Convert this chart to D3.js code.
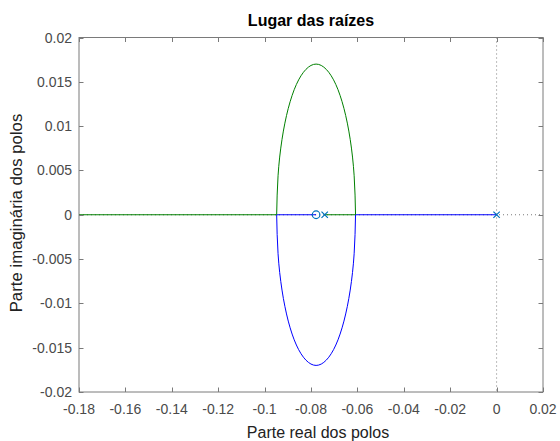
<!DOCTYPE html>
<html><head><meta charset="utf-8">
<script src="https://cdn.jsdelivr.net/npm/d3@7"></script>
<style>body{margin:0;background:#fff}svg{display:block;font-family:"Liberation Sans",Arial,sans-serif}</style>
</head><body><svg id="c" width="560" height="441"></svg>
<script>
const xTicks = [-0.18,-0.16,-0.14,-0.12,-0.1,-0.08,-0.06,-0.04,-0.02,0,0.02];
const yTicks = [-0.02,-0.015,-0.01,-0.005,0,0.005,0.01,0.015,0.02];
const xTickLabels = ["-0.18","-0.16","-0.14","-0.12","-0.1","-0.08","-0.06","-0.04","-0.02","0","0.02"];
const yTickLabels = ["-0.02","-0.015","-0.01","-0.005","0","0.005","0.01","0.015","0.02"];
// upper (green) arc of the locus
const arcX = [-0.0608,-0.0614,-0.0631,-0.0658,-0.0693,-0.0734,-0.0778,-0.0822,-0.0863,-0.0898,-0.0925,-0.0942,-0.0948];
const arcY = [0,0.0044,0.0085,0.0120,0.0147,0.0164,0.0170,0.0164,0.0147,0.0120,0.0085,0.0044,0];
const lowerArcY = [0,-0.0044,-0.0085,-0.0120,-0.0147,-0.0164,-0.0170,-0.0164,-0.0147,-0.0120,-0.0085,-0.0044,0];
// real-axis segments
const greenReal = [[-0.0741,-0.0608],[-0.0948,-0.25]];
const blueReal = [[0,-0.0608],[-0.0948,-0.0778]];
const poles = [0,-0.0741];
const zeros = [-0.0778];

const svg = d3.select("#c");
const L=79,R=543,T=37.5,B=392;
const x = d3.scaleLinear().domain([-0.18,0.02]).range([L,R]);
const y = d3.scaleLinear().domain([-0.02,0.02]).range([B,T]);
const axisCol="#7a7a7a", txtCol="#4a4a4a";
svg.append("defs").append("clipPath").attr("id","clip").append("rect").attr("x",L).attr("y",T).attr("width",R-L).attr("height",B-T);
const g = svg.append("g").attr("clip-path","url(#clip)");
// dotted axis lines
g.append("line").attr("x1",x(0)).attr("x2",x(0)).attr("y1",T).attr("y2",B).attr("stroke","#7a7a7a").attr("stroke-dasharray","1,3");
g.append("line").attr("x1",L).attr("x2",R).attr("y1",y(0)).attr("y2",y(0)).attr("stroke","#7a7a7a").attr("stroke-dasharray","1,3");
const line = d3.line().x(d=>x(d[0])).y(d=>y(d[1])).curve(d3.curveNatural);
const upper = arcX.map((v,i)=>[v,arcY[i]]);
const lower = arcX.map((v,i)=>[v,lowerArcY[i]]);
const blue="#0000ff", green="#008000";
blueReal.forEach(s=>g.append("line").attr("x1",x(s[0])).attr("x2",x(s[1])).attr("y1",y(0)).attr("y2",y(0)).attr("stroke",blue).attr("stroke-width",1));
greenReal.forEach(s=>g.append("line").attr("x1",x(s[0])).attr("x2",x(s[1])).attr("y1",y(0)).attr("y2",y(0)).attr("stroke",green).attr("stroke-width",1));
g.append("path").attr("d",line(lower)).attr("fill","none").attr("stroke",blue).attr("stroke-width",1);
g.append("path").attr("d",line(upper)).attr("fill","none").attr("stroke",green).attr("stroke-width",1);
const mk="#0072bd";
zeros.forEach(z=>g.append("circle").attr("cx",x(z)).attr("cy",y(0)).attr("r",3.8).attr("fill","none").attr("stroke",mk).attr("stroke-width",1.2));
poles.forEach(p=>{const cx=x(p),cy=y(0),s=3.2;
  g.append("path").attr("d",`M${cx-s},${cy-s}L${cx+s},${cy+s}M${cx-s},${cy+s}L${cx+s},${cy-s}`).attr("stroke",mk).attr("stroke-width",1.2);});
// box and ticks
svg.append("rect").attr("x",L).attr("y",T).attr("width",R-L).attr("height",B-T).attr("fill","none").attr("stroke",axisCol).attr("stroke-width",1);
const tl=4.5;
xTicks.forEach((t,i)=>{const px=Math.round(x(t))+0.5;
  svg.append("line").attr("x1",px).attr("x2",px).attr("y1",B).attr("y2",B-tl).attr("stroke",axisCol);
  svg.append("line").attr("x1",px).attr("x2",px).attr("y1",T).attr("y2",T+tl).attr("stroke",axisCol);
  svg.append("text").attr("x",x(t)).attr("y",B+22).attr("text-anchor","middle").attr("font-size",14).attr("fill",txtCol).text(xTickLabels[i]);});
yTicks.forEach((t,i)=>{const py=Math.round(y(t))+0.5;
  svg.append("line").attr("x1",L).attr("x2",L+tl).attr("y1",py).attr("y2",py).attr("stroke",axisCol);
  svg.append("line").attr("x1",R).attr("x2",R-tl).attr("y1",py).attr("y2",py).attr("stroke",axisCol);
  svg.append("text").attr("x",L-7).attr("y",y(t)+5).attr("text-anchor","end").attr("font-size",14).attr("fill",txtCol).text(yTickLabels[i]);});
svg.append("text").attr("x",(L+R)/2).attr("y",26).attr("text-anchor","middle").attr("font-size",16).attr("font-weight","bold").attr("fill","#000").text("Lugar das raízes");
svg.append("text").attr("x",(L+R)/2 + 7).attr("y",438).attr("text-anchor","middle").attr("font-size",16).attr("fill","#222").text("Parte real dos polos");
svg.append("text").attr("transform",`translate(22,213) rotate(-90)`).attr("text-anchor","middle").attr("font-size",16.8).attr("fill","#222").text("Parte imaginária dos polos");
</script></body></html>
